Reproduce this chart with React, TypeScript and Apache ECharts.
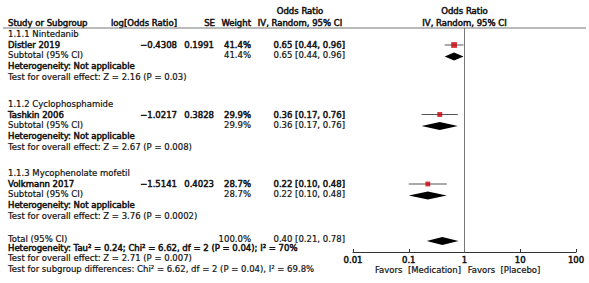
import React, { useEffect, useRef } from "react";
import * as echarts from "echarts";

const subgroups = ["1.1.1 Nintedanib", "1.1.2 Cyclophosphamide", "1.1.3 Mycophenolate mofetil"];
const studies = ["Distler 2019", "Tashkin 2006", "Volkmann 2017"];
const logOR = ["\u22120.4308", "\u22121.0217", "\u22121.5141"];
const seValues = ["0.1991", "0.3828", "0.4023"];
const weights = [41.4, 29.9, 28.7];
const orValues = [0.65, 0.36, 0.22];
const ciLow = [0.44, 0.17, 0.1];
const ciHigh = [0.96, 0.76, 0.48];
const zTests = ["Z = 2.16 (P = 0.03)", "Z = 2.67 (P = 0.008)", "Z = 3.76 (P = 0.0002)"];
const totalOR = 0.4;
const totalLow = 0.21;
const totalHigh = 0.78;
const totalWeight = "100.0%";
const totalHet = "Heterogeneity: Tau\u00b2 = 0.24; Chi\u00b2 = 6.62, df = 2 (P = 0.04); I\u00b2 = 70%";
const totalTest = "Test for overall effect: Z = 2.71 (P = 0.007)";
const subgroupTest = "Test for subgroup differences: Chi\u00b2 = 6.62, df = 2 (P = 0.04), I\u00b2 = 69.8%";
const xTicks = [0.01, 0.1, 1, 10, 100];
const favorsLeft = "Favors  [Medication]";
const favorsRight = "Favors  [Placebo]";

// layout (pixels)
const groupTop = [34, 103.5, 173];
const OFF = { title: 0, study: 11, subtotal: 21, het: 32, test: 43 };
const TOTAL_Y = 239;
const AXIS_Y = 252;
const HEADER_LINE_Y = 28;

const fmt = (v: number) => v.toFixed(2);
const ciText = (o: number, l: number, h: number) => `${fmt(o)} [${fmt(l)}, ${fmt(h)}]`;

export default function App() {
  const ref = useRef<HTMLDivElement>(null);
  useEffect(() => {
    document.body.style.margin = "0";
    if (!ref.current) return;
    const chart = echarts.init(ref.current, null, { renderer: "svg" });
    const FF = '"DejaVu Sans", Verdana, sans-serif';
    const txt = (
      text: string,
      x: number,
      y: number,
      align: "left" | "right" | "center" = "left",
      heavy = false
    ) => ({
      type: "text",
      x,
      y,
      silent: true,
      style: {
        text,
        fill: "#111",
        stroke: "#111",
        lineWidth: heavy ? 0.5 : 0.2,
        fontFamily: FF,
        fontSize: 8.5,
        fontWeight: "normal",
        textAlign: align,
        textVerticalAlign: "middle",
      },
    });

    const g: any[] = [];
    g.push(txt("Odds Ratio", 300, 11, "center", true));
    g.push(txt("Odds Ratio", 464.5, 11, "center", true));
    g.push(txt("Study or Subgroup", 8, 23, "left", true));
    g.push(txt("log[Odds Ratio]", 177, 23, "right", true));
    g.push(txt("SE", 215, 23, "right", true));
    g.push(txt("Weight", 251, 23, "right", true));
    g.push(txt("IV, Random, 95% CI", 300, 23, "center", true));
    g.push(txt("IV, Random, 95% CI", 464.5, 23, "center", true));
    g.push({
      type: "line",
      silent: true,
      shape: { x1: 3, y1: HEADER_LINE_Y, x2: 586, y2: HEADER_LINE_Y },
      style: { stroke: "#777", lineWidth: 1 },
    });

    studies.forEach((s, i) => {
      const t = groupTop[i];
      g.push(txt(subgroups[i], 8, t + OFF.title));
      g.push(txt(s, 8, t + OFF.study, "left", true));
      g.push(txt(logOR[i], 177, t + OFF.study, "right", true));
      g.push(txt(seValues[i], 214, t + OFF.study, "right", true));
      g.push(txt(weights[i].toFixed(1) + "%", 251, t + OFF.study, "right", true));
      g.push(txt(ciText(orValues[i], ciLow[i], ciHigh[i]), 345, t + OFF.study, "right", true));
      g.push(txt("Subtotal (95% CI)", 8, t + OFF.subtotal));
      g.push(txt(weights[i].toFixed(1) + "%", 251, t + OFF.subtotal, "right"));
      g.push(txt(ciText(orValues[i], ciLow[i], ciHigh[i]), 345, t + OFF.subtotal, "right"));
      g.push(txt("Heterogeneity: Not applicable", 8, t + OFF.het, "left", true));
      g.push(txt("Test for overall effect: " + zTests[i], 8, t + OFF.test));
    });

    g.push(txt("Total (95% CI)", 8, TOTAL_Y));
    g.push(txt(totalWeight, 251, TOTAL_Y, "right"));
    g.push(txt(ciText(totalOR, totalLow, totalHigh), 345, TOTAL_Y, "right"));
    g.push(txt(totalHet, 8, TOTAL_Y + 9, "left", true));
    g.push(txt(totalTest, 8, TOTAL_Y + 18.5));
    g.push(txt(subgroupTest, 8, TOTAL_Y + 29.5));
    g.push(txt(favorsLeft, 418, 270, "center"));
    g.push(txt(favorsRight, 504, 270, "center"));

    const studyY = studies.map((_, i) => groupTop[i] + OFF.study);
    const subY = studies.map((_, i) => groupTop[i] + OFF.subtotal + 1.5);

    chart.setOption({
      animation: false,
      grid: { left: 353, width: 223, top: 0, height: AXIS_Y },
      xAxis: {
        type: "log",
        logBase: 10,
        min: xTicks[0],
        max: xTicks[xTicks.length - 1],
        position: "bottom",
        axisLine: { onZero: false, lineStyle: { color: "#333", width: 1 } },
        axisTick: { inside: true, length: 3, lineStyle: { color: "#333" } },
        axisLabel: {
          color: "#111",
          textBorderColor: "#111",
          textBorderWidth: 0.5,
          fontSize: 8.5,
          fontFamily: FF,
          margin: 3,
          showMaxLabel: true,
          formatter: (v: number) => String(v),
        },
        splitLine: { show: false },
      },
      yAxis: { type: "value", min: 0, max: AXIS_Y, inverse: true, show: false },
      graphic: g,
      series: [
        {
          type: "line",
          data: [
            [1, HEADER_LINE_Y],
            [1, AXIS_Y],
          ],
          symbol: "none",
          lineStyle: { color: "#777", width: 1 },
          silent: true,
        },
        {
          type: "custom",
          data: studies.map((_, i) => [ciLow[i], ciHigh[i], studyY[i]]),
          renderItem: (params: any, api: any) => {
            const p1 = api.coord([api.value(0), api.value(2)]);
            const p2 = api.coord([api.value(1), api.value(2)]);
            return {
              type: "line",
              shape: { x1: p1[0], y1: p1[1], x2: p2[0], y2: p2[1] },
              style: { stroke: "#555", lineWidth: 1 },
            };
          },
          silent: true,
        },
        {
          type: "scatter",
          data: studies.map((_, i) => [orValues[i], studyY[i], weights[i]]),
          symbol: "rect",
          symbolSize: (v: number[]) => Math.sqrt(v[2]) * 0.9,
          itemStyle: { color: "#c8000a" },
          silent: true,
        },
        {
          type: "custom",
          data: [
            ...studies.map((_, i) => [orValues[i], ciLow[i], ciHigh[i], subY[i]]),
            [totalOR, totalLow, totalHigh, TOTAL_Y + 2],
          ],
          renderItem: (params: any, api: any) => {
            const c = api.coord([api.value(0), api.value(3)]);
            const l = api.coord([api.value(1), api.value(3)]);
            const r = api.coord([api.value(2), api.value(3)]);
            const h = 4;
            return {
              type: "polygon",
              shape: {
                points: [
                  [l[0], c[1]],
                  [c[0], c[1] - h],
                  [r[0], c[1]],
                  [c[0], c[1] + h],
                ],
              },
              style: { fill: "#000" },
            };
          },
          silent: true,
        },
      ],
    });
    return () => chart.dispose();
  }, []);
  return <div ref={ref} style={{ width: 589, height: 283, background: "#fff" }} />;
}
